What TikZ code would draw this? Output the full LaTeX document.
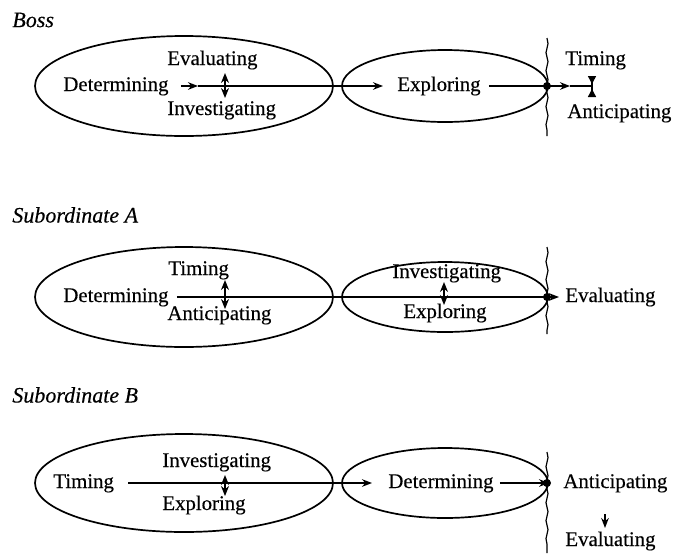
\documentclass[tikz,border=0pt]{standalone}
\usepackage{fontspec}
\setmainfont{Liberation Serif}[FakeBold=0.3]
\usetikzlibrary{arrows.meta,decorations.pathmorphing,shapes.geometric}
\begin{document}
\begin{tikzpicture}[x=0.5pt,y=-0.5pt,
 txt/.style={anchor=west,inner sep=0pt,text height=7pt,text depth=2pt,font=\fontsize{10.4}{12}\selectfont},
 ttl/.style={anchor=west,inner sep=0pt,font=\fontsize{11}{12}\selectfont\itshape},
 oval/.style={draw,ellipse,line width=0.85pt,inner sep=0pt},
 ln/.style={line width=0.7pt},
 arr/.style={ln,-{Stealth[length=5pt,width=3.8pt]}},
 darr/.style={ln,{Stealth[length=5pt,width=4pt]}-{Stealth[length=5pt,width=4pt]}},
 hg/.style={ln,{Triangle[length=4pt,width=4pt,reversed]}-{Triangle[length=4pt,width=4pt,reversed]}},
 wav/.style={line width=0.6pt,decorate,decoration={snake,amplitude=0.5pt,segment length=9pt}},
 dotn/.style={circle,fill,inner sep=0pt,minimum size=4pt}]
\useasboundingbox (0,0) rectangle (686,553);

% ---------------- Boss ----------------
\node[ttl] (tboss) at (12,20) {Boss};
\node[oval,minimum width=149pt,minimum height=50pt] (be1) at (184,86) {};
\node[oval,minimum width=103pt,minimum height=36pt] (be2) at (445,86) {};
\node[txt] (bdet) at (63,86) {Determining};
\node[txt] (beva) at (167,60) {Evaluating};
\node[txt] (binv) at (167,110) {Investigating};
\node[txt] (bexp) at (397,86) {Exploring};
\node[txt] (btim) at (565,60) {Timing};
\node[txt] (bant) at (567,113) {Anticipating};
\coordinate (bm) at (198,86);
\coordinate (bq) at (570,86);
\coordinate (bh) at (592,86);
\coordinate (bht) at (592,76);
\coordinate (bhb) at (592,97);
\coordinate (bdt) at (225,73);
\coordinate (bdb) at (225,98);
\coordinate (bw1) at (547,38);
\coordinate (bw2) at (547,136);
\draw[arr,shorten <=6pt] (bdet) -- (bm);
\draw[arr,shorten >=7pt] (bm) -- (bexp);
\draw[arr,shorten <=4pt] (bexp) -- (bq);
\draw[ln] (bq) -- (bh);
\draw[hg] (bht) -- (bhb);
\draw[darr] (bdt) -- (bdb);
\draw[wav] (bw1) -- (bw2);
\node[dotn] (bdot) at (547,86) {};

% ---------------- Subordinate A ----------------
\node[ttl] (tsa) at (12,215) {Subordinate A};
\node[oval,minimum width=149pt,minimum height=50pt] (ae1) at (184,297) {};
\node[oval,minimum width=103pt,minimum height=35pt] (ae2) at (445,297) {};
\node[txt] (atim) at (168,270) {Timing};
\node[txt] (adet) at (63,297) {Determining};
\node[txt] (aant) at (167,315) {Anticipating};
\node[txt] (ainv) at (392,273) {Investigating};
\node[txt] (aexp) at (403,313) {Exploring};
\node[txt] (aeva) at (565,297) {Evaluating};
\coordinate (aend) at (559,297);
\coordinate (a1t) at (225,280);
\coordinate (a1b) at (225,309);
\coordinate (a2t) at (444,282);
\coordinate (a2b) at (444,305);
\coordinate (aw1) at (547,247);
\coordinate (aw2) at (547,334);
\draw[arr,shorten <=4pt] (adet) -- (aend);
\draw[darr] (a1t) -- (a1b);
\draw[darr] (a2t) -- (a2b);
\draw[wav] (aw1) -- (aw2);
\node[dotn] (adot) at (547,297) {};

% ---------------- Subordinate B ----------------
\node[ttl] (tsb) at (12,395) {Subordinate B};
\node[oval,minimum width=149pt,minimum height=49pt] (ce1) at (184,483) {};
\node[oval,minimum width=103pt,minimum height=35pt] (ce2) at (445,483) {};
\node[txt] (ctim) at (53,483) {Timing};
\node[txt] (cinv) at (162,462) {Investigating};
\node[txt] (cexp) at (162,505) {Exploring};
\node[txt] (cdet) at (388,483) {Determining};
\node[txt] (cant) at (563,483) {Anticipating};
\node[txt] (ceva) at (565,541) {Evaluating};
\coordinate (cend) at (549,483);
\coordinate (c1t) at (225,475);
\coordinate (c1b) at (225,496);
\coordinate (cdn1) at (605,514);
\coordinate (cdn2) at (605,528);
\coordinate (cw1) at (547,452);
\coordinate (cw2) at (547,553);
\draw[arr,shorten <=7pt,shorten >=8pt] (ctim) -- (cdet);
\draw[arr,shorten <=3pt] (cdet) -- (cend);
\draw[darr] (c1t) -- (c1b);
\draw[arr] (cdn1) -- (cdn2);
\draw[wav] (cw1) -- (cw2);
\node[dotn] (cdot) at (547,483) {};
\end{tikzpicture}
\end{document}
